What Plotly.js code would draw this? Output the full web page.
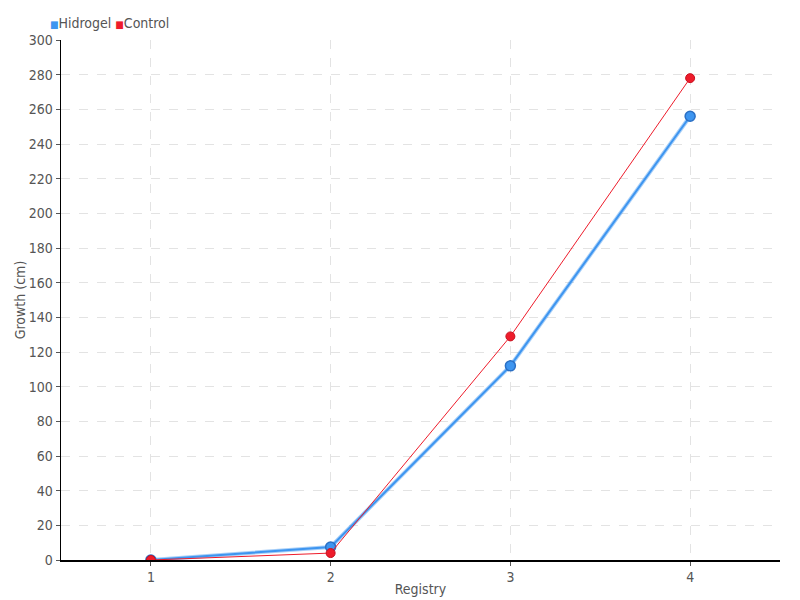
<!DOCTYPE html>
<html><head><meta charset="utf-8">
<script src="https://cdn.plot.ly/plotly-3.0.1.min.js"></script>
<style>body{margin:0;padding:0;}#chart{width:800px;height:600px;}</style>
</head><body><div id="chart"></div>
<script>
const registry = [1, 2, 3, 4];
const hidrogel = [0, 7.5, 112, 256];
const control = [0, 4, 129, 278];
const yTicks = [0,20,40,60,80,100,120,140,160,180,200,220,240,260,280,300];
const seriesNames = ['Hidrogel', 'Control'];

const blue = '#3d95f0';
const red = '#ee1c2b';
const font = 'DejaVu Sans Condensed, DejaVu Sans, sans-serif';

const traces = [
  {x: registry, y: hidrogel, mode: 'lines', line: {color: 'rgba(61,149,240,0.45)', width: 4}, showlegend: false, hoverinfo: 'skip'},
  {x: registry, y: hidrogel, mode: 'lines+markers', name: seriesNames[0], showlegend: false,
   line: {color: blue, width: 2}, marker: {color: blue, size: 10, line: {color: '#2a6fc4', width: 1.5}}},
  {x: registry, y: control, mode: 'lines+markers', name: seriesNames[1], showlegend: false,
   line: {color: red, width: 1}, marker: {color: red, size: 9, line: {color: '#c8101e', width: 1}}}
];

const layout = {
  width: 800, height: 600,
  margin: {l: 61, r: 20, t: 40, b: 40},
  paper_bgcolor: '#fff', plot_bgcolor: '#fff',
  font: {family: font, color: '#555', size: 14},
  showlegend: false,
  annotations: [{
    xref: 'paper', yref: 'paper', x: -0.018, y: 1.0, xanchor: 'left', yanchor: 'bottom', yshift: 7,
    showarrow: false, font: {family: font, size: 14, color: '#555'},
    text: '<span style="color:' + blue + ';font-size:10px">■</span>' + seriesNames[0] + ' <span style="color:' + red + ';font-size:10px">■</span>' + seriesNames[1]
  }],
  xaxis: {
    range: [0.5, 4.5], tickvals: registry, ticktext: registry.map(String), automargin: false,
    showline: true, linecolor: '#000', linewidth: 1.5, ticks: 'outside', ticklen: 4, tickcolor: '#555',
    showgrid: true, gridcolor: '#e3e3e3', griddash: 'dash', zeroline: false,
    title: {text: 'Registry', standoff: 0, font: {family: font, size: 14, color: '#555'}},
    tickfont: {family: font, size: 14, color: '#555'}
  },
  yaxis: {
    range: [0, 300], tickvals: yTicks, automargin: false,
    showline: true, linecolor: '#000', linewidth: 1.5, ticks: 'outside', ticklen: 4, tickcolor: '#555',
    showgrid: true, gridcolor: '#e3e3e3', griddash: 'dash', zeroline: false,
    title: {text: 'Growth (cm)', standoff: 0, font: {family: font, size: 14, color: '#555'}},
    tickfont: {family: font, size: 14, color: '#555'}
  }
};

Plotly.newPlot('chart', traces, layout, {displayModeBar: false, staticPlot: true});
</script></body></html>
